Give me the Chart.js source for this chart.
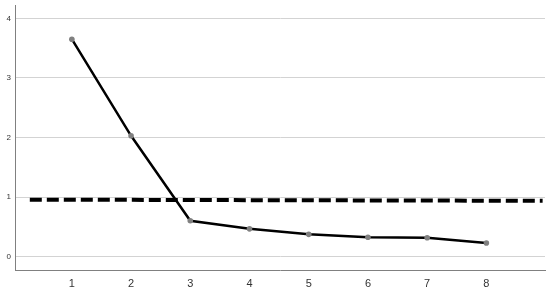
<!DOCTYPE html>
<html>
<head>
<meta charset="utf-8">
<script src="https://cdn.jsdelivr.net/npm/chart.js@4"></script>
<style>
html,body{margin:0;padding:0;background:#fff;}
#wrap{width:550px;height:291px;}
</style>
</head>
<body>
<div id="wrap"><canvas id="scree" width="550" height="291"></canvas></div>
<script>
// component numbers and eigenvalues
const components=[1,2,3,4,5,6,7,8];
const eigenvalues=[3.65,2.03,0.605,0.47,0.378,0.33,0.32,0.233];
// dashed reference line (start / end)
const refX=[0.29,8.95];
const refY=[0.96,0.94];
const yTicks=[0,1,2,3,4];

const screeData=components.map((c,i)=>({x:c,y:eigenvalues[i]}));
const refData=refX.map((x,i)=>({x:x,y:refY[i]}));

new Chart(document.getElementById("scree"),{
type:'line',
data:{
datasets:[
{data:screeData,borderColor:"#000",borderWidth:2.5,
pointBackgroundColor:"#808080",pointBorderColor:"#808080",pointRadius:2.8,pointBorderWidth:0,tension:0},
{data:refData,borderColor:"#000",borderWidth:4,borderDash:[12,5],pointRadius:0,tension:0}
]
},
options:{
responsive:false,
animation:false,
layout:{padding:{top:0,right:5,left:0,bottom:0}},
plugins:{legend:{display:false},tooltip:{enabled:false}},
scales:{
x:{
type:'linear',min:0.04,max:8.99,
grid:{display:false,drawTicks:false},
border:{display:true,color:"#808080",width:1},
ticks:{stepSize:1,includeBounds:false,padding:7,color:"#333",font:{family:"Arial, Liberation Sans",size:11}},
afterFit:s=>{s.height=21;}
},
y:{
type:'linear',min:-0.22,max:4.22,
afterBuildTicks:s=>{s.ticks=yTicks.map(v=>({value:v}));},
grid:{color:"#d3d3d3",lineWidth:1,drawTicks:false},
border:{display:true,color:"#808080",width:1},
ticks:{padding:4,color:"#333",font:{family:"Arial, Liberation Sans",size:8,lineHeight:0.3}},
afterFit:s=>{s.width=15;}
}
}
}
});
</script>
</body>
</html>
